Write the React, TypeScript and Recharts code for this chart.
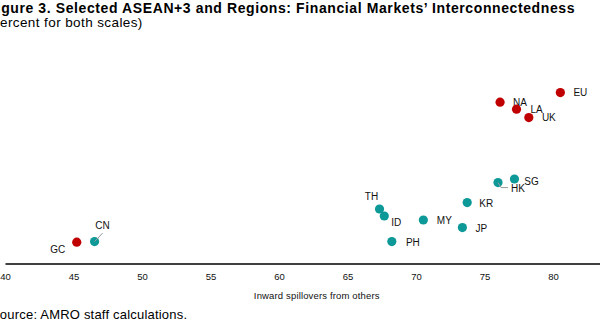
import React from "react";
import { ScatterChart, Scatter, XAxis, YAxis } from "recharts";

// ASEAN+3 economies (teal)
const econNames = ["CN", "TH", "ID", "PH", "MY", "JP", "KR", "HK", "SG"];
const econInward = [46.5, 67.3, 67.65, 68.2, 70.5, 73.35, 73.7, 75.95, 77.15];
const econOutward = [11.2, 27.5, 24.0, 11.2, 22.0, 18.2, 30.7, 40.7, 42.5];

// regions (red)
const regionNames = ["GC", "NA", "LA", "UK", "EU"];
const regionInward = [45.2, 76.1, 77.3, 78.2, 80.5];
const regionOutward = [10.9, 80.9, 77.4, 73.2, 85.7];

const xTicks = [40, 45, 50, 55, 60, 65, 70, 75, 80];

// label placement relative to each dot
const labelOffsets: Record<string, { dx: number; dy: number }> = {
  GC: { dx: -19, dy: 7 },
  CN: { dx: 8, dy: -16 },
  TH: { dx: -8, dy: -13 },
  ID: { dx: 12, dy: 6 },
  PH: { dx: 21, dy: 0.5 },
  MY: { dx: 21, dy: 0.5 },
  JP: { dx: 19, dy: 1 },
  KR: { dx: 19, dy: 0.5 },
  HK: { dx: 20, dy: 5.5 },
  SG: { dx: 17, dy: 2 },
};
const leaders: Record<string, number[][]> = {
  CN: [[0, 0], [8, -8.5]],
  HK: [[0, 0], [3, 5], [10, 5]],
};

const FONT = "'Liberation Sans', Arial, sans-serif";

const toPoints = (names: string[], xs: number[], ys: number[]) =>
  names.map((name, i) => ({ name, x: xs[i], y: ys[i] }));

const econData = toPoints(econNames, econInward, econOutward);
const regionData = toPoints(regionNames, regionInward, regionOutward);

const makeShape = (color: string) => (props: any) => {
  const { cx, cy, payload } = props;
  const off = labelOffsets[payload.name] ?? { dx: 20, dy: 0 };
  const lead = leaders[payload.name];
  return (
    <g>
      <circle cx={cx} cy={cy} r={4.6} fill={color} />
      {lead && (
        <polyline
          points={lead.map(([a, b]) => `${cx + a},${cy + b}`).join(" ")}
          fill="none"
          stroke="#999"
          strokeWidth={1}
        />
      )}
      <text
        x={cx + off.dx}
        y={cy + off.dy}
        textAnchor="middle"
        dominantBaseline="central"
        fontSize={10}
        fontFamily={FONT}
        fill="#111"
      >
        {payload.name}
      </text>
    </g>
  );
};

export default function App() {
  return (
    <div
      style={{
        position: "fixed",
        left: 0,
        top: 0,
        width: 600,
        height: 330,
        overflow: "hidden",
        background: "#fff",
        fontFamily: FONT,
        color: "#000",
      }}
    >
      <div
        style={{
          position: "absolute",
          left: -12.5,
          top: 0,
          fontSize: 14,
          letterSpacing: 0.6,
          fontWeight: "bold",
          whiteSpace: "nowrap",
          lineHeight: "16px",
        }}
      >
        Figure 3. Selected ASEAN+3 and Regions: Financial Markets’ Interconnectedness
      </div>
      <div
        style={{
          position: "absolute",
          left: -14.3,
          top: 15,
          fontSize: 13.5,
          letterSpacing: 0.4,
          whiteSpace: "nowrap",
          lineHeight: "16px",
        }}
      >
        (Percent for both scales)
      </div>
      <div style={{ position: "absolute", left: 0, top: 0 }}>
        <ScatterChart
          width={640}
          height={330}
          margin={{ top: 84, right: 18, bottom: 26, left: 5.5 }}
        >
          <XAxis
            type="number"
            dataKey="x"
            domain={[40, 85]}
            ticks={xTicks}
            tickLine={false}
            axisLine={{ stroke: "#000", strokeWidth: 1.3 }}
            tick={{ fontSize: 9.5, fill: "#111", fontFamily: FONT }}
            tickSize={7}
            height={40}
            label={{
              value: "Inward spillovers from others",
              position: "insideBottom",
              offset: 5,
              dx: 3,
              fontSize: 9.5,
              letterSpacing: 0.15,
              fill: "#111",
              fontFamily: FONT,
            }}
          />
          <YAxis
            type="number"
            dataKey="y"
            domain={[0, 90]}
            width={0}
            tick={false}
            tickLine={false}
            axisLine={{ stroke: "#000", strokeWidth: 1.3 }}
          />
          <Scatter
            data={econData}
            fill="#0e9999"
            shape={makeShape("#0e9999")}
            isAnimationActive={false}
          />
          <Scatter
            data={regionData}
            fill="#c00000"
            shape={makeShape("#c00000")}
            isAnimationActive={false}
          />
        </ScatterChart>
      </div>
      <div
        style={{
          position: "absolute",
          left: -9,
          top: 307,
          fontSize: 13,
          letterSpacing: 0.2,
          whiteSpace: "nowrap",
          lineHeight: "16px",
        }}
      >
        Source: AMRO staff calculations.
      </div>
    </div>
  );
}
